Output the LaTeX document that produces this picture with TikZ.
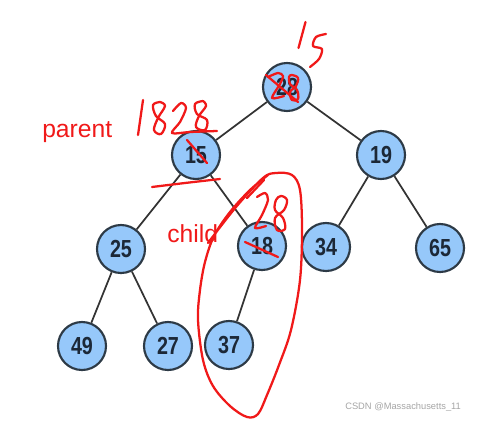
\documentclass[tikz,border=0pt]{standalone}
\usepackage{fontspec}
\setmainfont{Liberation Sans}
\newfontfamily\numfont[FakeStretch=0.8]{Liberation Sans}
\definecolor{nodefill}{RGB}{150,200,250}
\definecolor{nodeline}{RGB}{45,58,70}
\definecolor{numcol}{RGB}{28,40,55}
\definecolor{pen}{RGB}{240,25,25}
\definecolor{wm}{RGB}{165,165,165}
\tikzset{
  hn/.style={circle, draw=nodeline, line width=1.6pt, fill=nodefill, minimum size=36pt, inner sep=0pt,
    font=\numfont\bfseries\fontsize{18.5}{18.5}\selectfont, text=numcol},
  tedge/.style={draw=black!80, line width=1.3pt},
  ink/.style={draw=pen, line width=1.7pt, line cap=round, line join=round},
  redtext/.style={text=pen, font=\fontsize{18.5}{20}\selectfont, inner sep=0pt}
}
\begin{document}
\begin{tikzpicture}[x=0.75pt,y=-0.75pt]
\useasboundingbox (0,0) rectangle (478,421);
% nodes
\node[hn] (r)   at (287,87)  {28};
\node[hn] (n15) at (196,155) {15};
\node[hn] (n19) at (381,155) {19};
\node[hn] (n25) at (121,249) {25};
\node[hn] (n18) at (262,246) {18};
\node[hn] (n34) at (326,247) {34};
\node[hn] (n65) at (440,248) {65};
\node[hn] (n49) at (82,346)  {49};
\node[hn] (n27) at (168,346) {27};
\node[hn] (n37) at (229,345) {37};
% edges
\draw[tedge] (r) -- (n15);
\draw[tedge] (r) -- (n19);
\draw[tedge] (n15) -- (n25);
\draw[tedge] (n15) -- (n18);
\draw[tedge] (n19) -- (n34);
\draw[tedge] (n19) -- (n65);
\draw[tedge] (n25) -- (n49);
\draw[tedge] (n25) -- (n27);
\draw[tedge] (n18) -- (n37);
% labels
\node[redtext, anchor=base west] (parent) at (42,137) {parent};
\node[redtext, anchor=base west] (child) at (167,242) {child};
\node[text=wm, font=\fontsize{7}{8}\selectfont, anchor=base west, inner sep=0pt] (wmk) at (345,409.5) {CSDN @Massachusetts\_11};
% handwriting above root: "15"
\draw[ink] (305.5,22) -- (298.5,48);
\draw[ink] plot[smooth, tension=0.5] coordinates {(326,34) (316,37) (313,46) (322,49) (319,59) (310,67)};
% scribble over root
\draw[ink] plot[smooth, tension=0.5] coordinates {(268,77) (278,73) (283,76) (280,84) (272,98) (284,96)};
\draw[ink] (266,75) -- (298,102);
\draw[ink] plot[smooth cycle, tension=0.6] coordinates {(292,75) (298,78) (296,86) (290,92) (292,100) (298,99) (297,90) (290,84) (289,77)};
% "1828" above 15
\draw[ink] (143,100) -- (138,135);
\draw[ink] plot[smooth, tension=0.6] coordinates {(160,102) (153,105) (156,116) (165,124) (161,134) (154,130) (158,118) (165,106) (160,102)};
\draw[ink] plot[smooth, tension=0.5] coordinates {(173,111) (181,103) (186,108) (180,122) (172,133) (190,132) (217,131)};
\draw[ink] plot[smooth, tension=0.6] coordinates {(203,101) (195,104) (197,114) (207,120) (205,130) (196,127) (199,116) (206,106) (203,101)};
% strike of 15 and underline
\draw[ink] (187,140) -- (207,163);
\draw[ink] plot[smooth] coordinates {(152,187) (185,183) (220,179)};
% "28" above 18 and strike
\draw[ink] plot[smooth, tension=0.5] coordinates {(257,197) (265,193) (268,200) (262,215) (255,228) (266,226)};
\draw[ink] plot[smooth cycle, tension=0.6] coordinates {(281,196) (287,200) (284,210) (275,218) (277,230) (285,229) (283,218) (275,210) (276,200)};
\draw[ink] (245,242) -- (278,257);
% hook stroke
\draw[ink] (247,198) -- (264,180);
% big loop
\draw[ink] plot[smooth, tension=0.55] coordinates {(208,243) (236,207) (263,178) (276,173) (292,175) (300,190) (302,230) (300,280) (291,330) (279,365) (267,395) (258,414) (247,417) (230,406) (213,386) (203,360) (198,320) (200,290) (205,262) (214,236) (230,212) (250,190) (268,175)};
\end{tikzpicture}
\end{document}
